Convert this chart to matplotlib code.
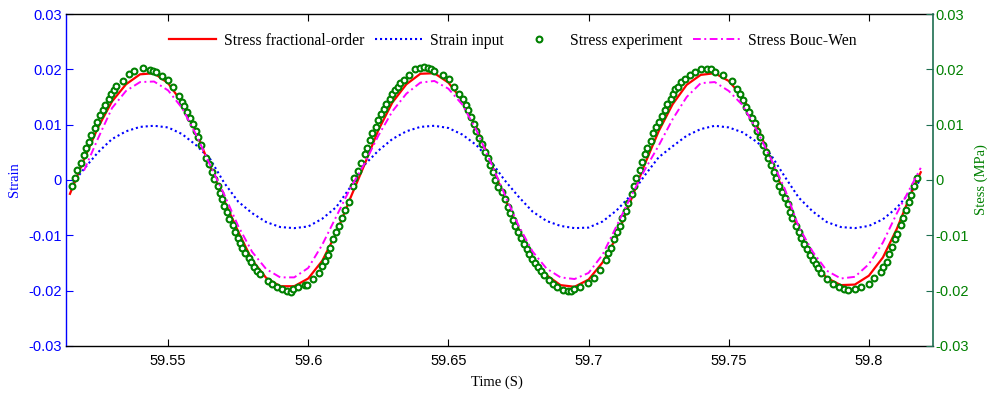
"""
Stress / strain time history - fractional-order model vs Bouc-Wen vs experiment
"""
import numpy as np
import matplotlib
matplotlib.use("Agg")
import matplotlib.pyplot as plt
from matplotlib.ticker import FuncFormatter

plt.rcParams.update({
    "font.family": "Liberation Sans",
    "axes.unicode_minus": False,
    "figure.dpi": 100,
})

BLUE = "#0000ff"
GREEN = "#008000"
GREEN_SPINE = "#1e6e50"
SERIF = "Liberation Serif"

# ── data ──────────────────────────────────────────────────────────
t_model = np.append(np.round(np.arange(59.515, 59.8151, 0.005), 3), 59.8185)

stress_frac = [
    -0.0025, 0.0037, 0.0095, 0.0142, 0.0173, 0.0191, 0.0193, 0.0175, 0.0140, 0.0087,
    0.0024, -0.0037, -0.0093, -0.0145, -0.0177, -0.0192, -0.0192, -0.0178, -0.0146, -0.0096,
    -0.0033, 0.0027, 0.0090, 0.0140, 0.0173, 0.0192, 0.0193, 0.0176, 0.0144, 0.0095,
    0.0033, -0.0032, -0.0088, -0.0140, -0.0172, -0.0190, -0.0193, -0.0180, -0.0149, -0.0103,
    -0.0038, 0.0028, 0.0088, 0.0137, 0.0172, 0.0190, 0.0193, 0.0179, 0.0150, 0.0100,
    0.0036, -0.0027, -0.0092, -0.0148, -0.0177, -0.0190, -0.0189, -0.0173, -0.0140, -0.0088,
    -0.0025, 0.0014,
]

stress_bw = [
    np.nan, 0.0017, 0.0075, 0.0130, 0.0161, 0.0177, 0.0178, 0.0162, 0.0130, 0.0082,
    0.0027, -0.0026, -0.0083, -0.0130, -0.0161, -0.0176, -0.0176, -0.0159, -0.0117, -0.0066,
    -0.0015, 0.0029, 0.0080, 0.0124, 0.0156, 0.0176, 0.0179, 0.0165, 0.0136, 0.0090,
    0.0033, -0.0025, -0.0082, -0.0129, -0.0160, -0.0176, -0.0179, -0.0168, -0.0135, -0.0083,
    -0.0031, 0.0018, 0.0062, 0.0110, 0.0150, 0.0175, 0.0177, 0.0161, 0.0135, 0.0090,
    0.0039, -0.0016, -0.0085, -0.0130, -0.0164, -0.0178, -0.0175, -0.0152, -0.0113, -0.0060,
    -0.0012, 0.0022,
]

strain_input = [
    -0.0012, 0.0020, 0.0050, 0.0074, 0.0088, 0.0096, 0.0098, 0.0095, 0.0083, 0.0063,
    0.0038, -0.0005, -0.0039, -0.0060, -0.0076, -0.0085, -0.0087, -0.0084, -0.0070, -0.0049,
    -0.0013, 0.0027, 0.0053, 0.0074, 0.0088, 0.0096, 0.0098, 0.0094, 0.0082, 0.0063,
    0.0035, 0.0000, -0.0030, -0.0057, -0.0074, -0.0083, -0.0087, -0.0086, -0.0075, -0.0055,
    -0.0028, 0.0008, 0.0041, 0.0061, 0.0080, 0.0092, 0.0098, 0.0095, 0.0086, 0.0069,
    0.0046, 0.0006, -0.0032, -0.0057, -0.0076, -0.0085, -0.0087, -0.0083, -0.0071, -0.0050,
    -0.0020, 0.0000,
]

t_exp = [
    59.5157, 59.5169, 59.5176, 59.5188, 59.5200, 59.5207, 59.5219, 59.5226, 59.5238, 59.5245,
    59.5258, 59.5269, 59.5276, 59.5288, 59.5296, 59.5306, 59.5314, 59.5339, 59.5360, 59.5377,
    59.5410, 59.5436, 59.5445, 59.5457, 59.5479, 59.5500, 59.5519, 59.5538, 59.5550, 59.5558,
    59.5569, 59.5580, 59.5590, 59.5598, 59.5607, 59.5617, 59.5637, 59.5645, 59.5655,
    59.5665, 59.5677, 59.5686, 59.5694, 59.5701, 59.5711, 59.5718, 59.5730, 59.5739, 59.5749,
    59.5758, 59.5765, 59.5775, 59.5787, 59.5796, 59.5808, 59.5818, 59.5827, 59.5856, 59.5870,
    59.5889, 59.5908, 59.5923, 59.5939, 59.5944, 59.5965, 59.5989, 59.5996, 59.6018, 59.6037,
    59.6049, 59.6061, 59.6070, 59.6079, 59.6090, 59.6100, 59.6108, 59.6120, 59.6130, 59.6144,
    59.6158, 59.6165,
    59.6176, 59.6188, 59.6202, 59.6210, 59.6219, 59.6229, 59.6241, 59.6248, 59.6260, 59.6271,
    59.6279, 59.6291, 59.6300, 59.6310, 59.6319, 59.6329, 59.6341, 59.6360, 59.6380, 59.6400,
    59.6412, 59.6426, 59.6438, 59.6450, 59.6481, 59.6501, 59.6521, 59.6538, 59.6552, 59.6562,
    59.6569, 59.6579, 59.6590, 59.6600, 59.6610, 59.6621, 59.6629, 59.6641, 59.6650, 59.6660,
    59.6667, 59.6676,
    59.6692, 59.6701, 59.6713, 59.6720, 59.6730, 59.6739, 59.6749, 59.6758, 59.6770, 59.6780,
    59.6787, 59.6799, 59.6808, 59.6820, 59.6830, 59.6842, 59.6858, 59.6873, 59.6889, 59.6908,
    59.6925, 59.6937, 59.6949, 59.6971, 59.6999, 59.7018, 59.7042, 59.7061, 59.7070, 59.7080,
    59.7089, 59.7101, 59.7111, 59.7120, 59.7132, 59.7142, 59.7156, 59.7161, 59.7170, 59.7182,
    59.7192, 59.7201,
    59.7210, 59.7221, 59.7231, 59.7240, 59.7252, 59.7262, 59.7271, 59.7281, 59.7293, 59.7300,
    59.7310, 59.7319, 59.7331, 59.7343, 59.7362, 59.7381, 59.7400, 59.7421, 59.7436, 59.7450,
    59.7481, 59.7510, 59.7531, 59.7541, 59.7552, 59.7562, 59.7574, 59.7583, 59.7593, 59.7602,
    59.7612, 59.7624, 59.7633, 59.7640, 59.7650, 59.7662, 59.7669, 59.7681, 59.7690, 59.7700,
    59.7710, 59.7719,
    59.7727, 59.7739, 59.7749, 59.7758, 59.7770, 59.7780, 59.7789, 59.7799, 59.7811, 59.7820,
    59.7830, 59.7851, 59.7873, 59.7892, 59.7911, 59.7927, 59.7951, 59.7973, 59.7999, 59.8020,
    59.8044, 59.8051, 59.8063, 59.8073, 59.8082, 59.8092, 59.8101, 59.8113, 59.8120, 59.8132,
    59.8142, 59.8151, 59.8161, 59.8173,
]

stress_exp = [
    -0.00103, 0.00030, 0.00181, 0.00301, 0.00452, 0.00573, 0.00681, 0.00814, 0.00946, 0.01055,
    0.01175, 0.01266, 0.01356, 0.01459, 0.01549, 0.01627, 0.01706, 0.01790, 0.01911, 0.01977,
    0.02020, 0.01995, 0.01977, 0.01947, 0.01887, 0.01808, 0.01688, 0.01525, 0.01417, 0.01344,
    0.01236, 0.01115, 0.01013, 0.00886, 0.00783, 0.00633, 0.00404, 0.00283, 0.00151,
    0.00018, -0.00108, -0.00229, -0.00349, -0.00470, -0.00584, -0.00705, -0.00814, -0.00934, -0.01055,
    -0.01145, -0.01236, -0.01326, -0.01405, -0.01489, -0.01567, -0.01646, -0.01700, -0.01821, -0.01875,
    -0.01929, -0.01977, -0.02001, -0.02019, -0.01977, -0.01941, -0.01899, -0.01899, -0.01797, -0.01676,
    -0.01555, -0.01459, -0.01356, -0.01224, -0.01073, -0.00946, -0.00826, -0.00681, -0.00537, -0.00392,
    -0.00108, 0.00042,
    0.00163, 0.00313, 0.00464, 0.00585, 0.00723, 0.00844, 0.00964, 0.01085, 0.01188, 0.01278,
    0.01369, 0.01465, 0.01549, 0.01627, 0.01688, 0.01748, 0.01808, 0.01899, 0.02001, 0.02020,
    0.02043, 0.02020, 0.02001, 0.01977, 0.01899, 0.01820, 0.01688, 0.01549, 0.01465, 0.01356,
    0.01266, 0.01133, 0.01013, 0.00886, 0.00765, 0.00645, 0.00512, 0.00404, 0.00271, 0.00139,
    0.00000, -0.00120,
    -0.00211, -0.00349, -0.00482, -0.00603, -0.00723, -0.00826, -0.00934, -0.01043, -0.01157, -0.01254,
    -0.01338, -0.01429, -0.01495, -0.01573, -0.01646, -0.01718, -0.01808, -0.01887, -0.01941, -0.01989,
    -0.02007, -0.02007, -0.01977, -0.01941, -0.01857, -0.01766, -0.01627, -0.01447, -0.01326, -0.01224,
    -0.01073, -0.00946, -0.00826, -0.00693, -0.00555, -0.00410, -0.00259, -0.00108, 0.00042, 0.00181,
    0.00331, 0.00464,
    0.00573, 0.00705, 0.00844, 0.00953, 0.01055, 0.01157, 0.01266, 0.01374, 0.01465, 0.01549,
    0.01640, 0.01688, 0.01778, 0.01820, 0.01899, 0.01959, 0.02001, 0.02007, 0.02001, 0.01959,
    0.01899, 0.01796, 0.01640, 0.01549, 0.01447, 0.01314, 0.01224, 0.01127, 0.01025, 0.00886,
    0.00783, 0.00633, 0.00512, 0.00404, 0.00271, 0.00151, 0.00042, -0.00103, -0.00211, -0.00331,
    -0.00434, -0.00573,
    -0.00693, -0.00826, -0.00934, -0.01043, -0.01157, -0.01254, -0.01356, -0.01447, -0.01525, -0.01597,
    -0.01688, -0.01790, -0.01887, -0.01941, -0.01977, -0.01995, -0.01977, -0.01941, -0.01881, -0.01778,
    -0.01658, -0.01579, -0.01477, -0.01344, -0.01206, -0.01073, -0.00977, -0.00814, -0.00681, -0.00543,
    -0.00392, -0.00271, -0.00108, 0.00030,
]

x_ticks = [59.55, 59.6, 59.65, 59.7, 59.75, 59.8]
y_ticks = [-0.03, -0.02, -0.01, 0, 0.01, 0.02, 0.03]

# ── figure ────────────────────────────────────────────────────────
fig = plt.figure(figsize=(9.9, 3.97), dpi=100)
ax = fig.add_axes([0.0667, 0.1285, 0.8758, 0.8362])
ax2 = ax.twinx()

l_strain, = ax.plot(t_model, strain_input, color=BLUE, lw=1.5,
                    ls=(0, (1, 1.4)), label="Strain input")
l_frac, = ax2.plot(t_model, stress_frac, color="red", lw=1.6,
                   label="Stress fractional-order")
l_exp, = ax2.plot(t_exp, stress_exp, ls="none", marker="o", ms=4.2,
                  mfc="white", mec=GREEN, mew=1.5, label="Stress experiment")
l_bw, = ax2.plot(t_model, stress_bw, color="magenta", lw=1.4,
                 ls=(0, (4, 1.8, 1, 1.8)), label="Stress Bouc-Wen")

fmt = FuncFormatter(lambda v, p: f"{round(v, 4):g}")
for a in (ax, ax2):
    a.set_xlim(59.5136, 59.8229)
    a.set_ylim(-0.03, 0.03)
    a.set_yticks(y_ticks)
    a.yaxis.set_major_formatter(fmt)

ax.set_xticks(x_ticks)
ax.xaxis.set_major_formatter(fmt)
ax.tick_params(axis="x", direction="in", top=True, length=5, labelsize=10.5, pad=6)
ax.tick_params(axis="y", direction="in", length=5, colors=BLUE, labelsize=10.5, pad=3)
ax2.tick_params(axis="y", direction="in", length=5, colors=GREEN_SPINE,
                labelcolor=GREEN, labelsize=10.5, pad=2)

ax.spines["left"].set_color(BLUE)
ax.spines["right"].set_visible(False)
ax2.spines["left"].set_visible(False)
ax2.spines["top"].set_visible(False)
ax2.spines["bottom"].set_visible(False)
ax2.spines["right"].set_color(GREEN_SPINE)
for s in ax.spines.values():
    s.set_linewidth(1.0)
ax2.spines["right"].set_linewidth(1.2)

ax.set_ylabel("Strain", color=BLUE, family=SERIF, fontsize=10.5)
ax.yaxis.set_label_coords(-0.052, 0.5)
ax2.set_ylabel("Stess (MPa)", color=GREEN, family=SERIF, fontsize=10.5)
ax2.yaxis.set_label_coords(1.048, 0.5)
ax.set_xlabel("Time (S)", family=SERIF, fontsize=10.5)
ax.xaxis.set_label_coords(0.497, -0.09)

ax2.legend(handles=[l_frac, l_strain, l_exp, l_bw], loc="center",
           bbox_to_anchor=(0.5156, 0.919), ncol=4, frameon=False,
           prop={"family": SERIF, "size": 11.3}, handlelength=3.0,
           handletextpad=0.5, columnspacing=0.7, numpoints=1)

fig.savefig("out.png", dpi=100)
plt.close(fig)
